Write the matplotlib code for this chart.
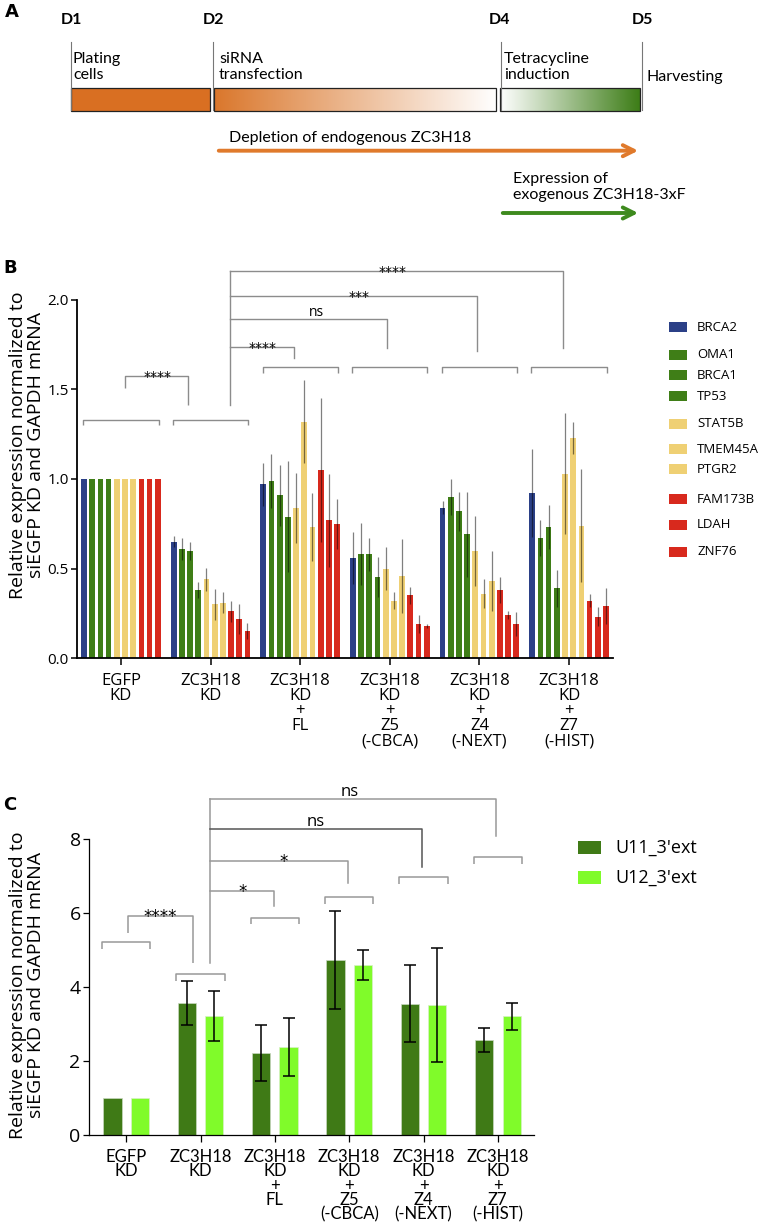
import numpy as np
import matplotlib
matplotlib.use("Agg")
from matplotlib import pyplot as plt
from matplotlib.colors import LinearSegmentedColormap

# --- data, panel B (one list per condition, genes in legend order)
genes = ['BRCA2', 'OMA1', 'BRCA1', 'TP53', 'STAT5B', 'TMEM45A', 'PTGR2', 'FAM173B', 'LDAH', 'ZNF76']
gene_colors = ['#2b4087', '#3f7e17', '#3f7e17', '#3f7e17', '#efd074', '#efd074', '#efd074',
               '#d8291d', '#d8291d', '#d8291d']
conditions = ['EGFP\nKD', 'ZC3H18\nKD', 'ZC3H18\nKD\n+\nFL', 'ZC3H18\nKD\n+\nZ5\n(-CBCA)',
              'ZC3H18\nKD\n+\nZ4\n(-NEXT)', 'ZC3H18\nKD\n+\nZ7\n(-HIST)']

mean_egfp = [1.0, 1.0, 1.0, 1.0, 1.0, 1.0, 1.0, 1.0, 1.0, 1.0]
err_egfp = [0, 0, 0, 0, 0, 0, 0, 0, 0, 0]
mean_kd = [0.65, 0.61, 0.60, 0.38, 0.44, 0.30, 0.31, 0.26, 0.22, 0.15]
err_kd = [0.03, 0.06, 0.05, 0.045, 0.063, 0.085, 0.056, 0.058, 0.084, 0.046]
mean_fl = [0.97, 0.99, 0.91, 0.79, 0.84, 1.32, 0.73, 1.05, 0.77, 0.75]
err_fl = [0.12, 0.15, 0.17, 0.31, 0.196, 0.233, 0.19, 0.40, 0.26, 0.14]
mean_z5 = [0.56, 0.58, 0.58, 0.45, 0.50, 0.32, 0.46, 0.35, 0.19, 0.18]
err_z5 = [0.146, 0.173, 0.093, 0.112, 0.12, 0.048, 0.206, 0.049, 0.049, 0.01]
mean_z4 = [0.84, 0.90, 0.82, 0.69, 0.60, 0.36, 0.43, 0.38, 0.24, 0.19]
err_z4 = [0.035, 0.10, 0.11, 0.235, 0.196, 0.082, 0.17, 0.072, 0.02, 0.065]
mean_z7 = [0.92, 0.67, 0.73, 0.39, 1.03, 1.23, 0.74, 0.32, 0.23, 0.29]
err_z7 = [0.245, 0.10, 0.122, 0.103, 0.34, 0.088, 0.316, 0.037, 0.054, 0.10]

# --- data, panel C
snrnas = ["U11_3'ext", "U12_3'ext"]
u11_mean = [1.0, 3.57, 2.22, 4.73, 3.55, 2.58]
u11_err = [0, 0.60, 0.75, 1.33, 1.04, 0.32]
u12_mean = [1.0, 3.22, 2.39, 4.60, 3.51, 3.21]
u12_err = [0, 0.67, 0.78, 0.40, 1.54, 0.36]
c_colors = ['#3f7a16', '#80fb2a']

W, H = 758, 1226
fig = plt.figure(figsize=(W / 100, H / 100), dpi=100)
plt.rcParams['font.family'] = ['Open Sans', 'DejaVu Sans']


def px_axes(x0, y0, x1, y1):
    # axes rectangle from pixel box (top-left origin)
    return [x0 / W, 1 - y1 / H, (x1 - x0) / W, (y1 - y0) / H]


def bracket(ax, x0, x1, y, d0, d1, color='#8c8c8c', lw=1.0):
    ax.plot([x0, x0, x1, x1], [y - d0, y, y, y - d1], color=color, lw=lw,
            clip_on=False, solid_capstyle='butt')


def star(ax, x, y, s, size, dy, family='DejaVu Sans'):
    ax.annotate(s, (x, y), xytext=(0, dy), textcoords='offset points',
                ha='center', va='baseline', fontsize=size, family=family,
                annotation_clip=False)


# ---------------- panel A (drawn in pixel coordinates)
axA = fig.add_axes(px_axes(0, 0, W, 225))
axA.axis('off')
fontA = ['Lato', 'DejaVu Sans']

fig.text(12 / W, 1 - 12 / H, 'A', fontsize=13, fontweight='bold', ha='center', va='center',
         family='DejaVu Sans')
for lab, x in zip(['D1', 'D2', 'D4', 'D5'], [71, 214, 500, 642]):
    axA.text(x, 20, lab, fontsize=11.5, fontweight='bold', ha='center', va='center', family=fontA)
for x in [71, 213, 500.5, 642]:
    axA.plot([x, x], [42, 110], color='#777777', lw=0.8)

orange = '#d96f22'
green = '#3d7d17'
axA.add_patch(plt.Rectangle((71, 87.7), 139.3, 23, facecolor=orange, edgecolor='#222222', lw=0.9))
grad = np.linspace(0, 1, 256).reshape(1, -1)
cm_o = LinearSegmentedColormap.from_list('o', ['#da772c', '#ffffff'])
cm_g = LinearSegmentedColormap.from_list('g', ['#ffffff', green])
axA.imshow(grad, cmap=cm_o, extent=(214, 496.3, 110.7, 87.7), aspect='auto')
axA.imshow(grad, cmap=cm_g, extent=(500, 640, 110.7, 87.7), aspect='auto')
axA.add_patch(plt.Rectangle((214, 87.7), 282.3, 23, facecolor='none', edgecolor='#222222', lw=0.9))
axA.add_patch(plt.Rectangle((500, 87.7), 140, 23, facecolor='none', edgecolor='#222222', lw=0.9))
axA.set_xlim(0, W)
axA.set_ylim(225, 0)

tA = dict(fontsize=11.5, ha='left', va='center', family=fontA, linespacing=1.2)
axA.text(73, 67, 'Plating\ncells', **tA)
axA.text(219, 67, 'siRNA\ntransfection', **tA)
axA.text(504, 67, 'Tetracycline\ninduction', **tA)
axA.text(646, 77, 'Harvesting', **tA)
axA.text(229, 137.7, 'Depletion of endogenous ZC3H18', **tA)
axA.text(513, 187, 'Expression of\nexogenous ZC3H18-3xF', **tA)
axA.annotate('', xy=(641, 150.7), xytext=(216, 150.7),
             arrowprops=dict(arrowstyle='->,head_length=0.8,head_width=0.4', color='#e07a2c', lw=2.8))
axA.annotate('', xy=(641, 213), xytext=(500, 213),
             arrowprops=dict(arrowstyle='->,head_length=0.8,head_width=0.4', color='#3e8a1e', lw=2.8))

# ---------------- panel B
axB = fig.add_axes(px_axes(77, 300, 613, 658))
b_means = [mean_egfp, mean_kd, mean_fl, mean_z5, mean_z4, mean_z7]
b_errs = [err_egfp, err_kd, err_fl, err_z5, err_z4, err_z7]
step = 0.0915
offs = (np.arange(len(genes)) - 4.5) * step
for g in range(len(genes)):
    vals = [m[g] for m in b_means]
    errs = [e[g] for e in b_errs]
    xs = np.arange(len(conditions)) + offs[g]
    axB.bar(xs, vals, width=0.064, color=gene_colors[g], zorder=2)
    axB.errorbar(xs, vals, yerr=errs, fmt='none', ecolor='black', alpha=0.5,
                 elinewidth=0.9, capsize=0, zorder=3)
axB.set_xlim(-0.49, 5.49)
axB.set_ylim(0, 2.0)
axB.set_yticks([0, 0.5, 1.0, 1.5, 2.0])
axB.set_yticklabels(['0.0', '0.5', '1.0', '1.5', '2.0'], fontsize=11)
axB.set_xticks(range(len(conditions)))
axB.set_xticklabels(conditions, fontsize=12, linespacing=0.92)
for s in ['top', 'right']:
    axB.spines[s].set_visible(False)
for s in ['left', 'bottom']:
    axB.spines[s].set_linewidth(1.3)
axB.tick_params(axis='both', length=4, width=1.1, pad=2)
axB.tick_params(axis='x', length=5, pad=6)

fig.text(10 / W, 1 - 268 / H, 'B', fontsize=13, fontweight='bold', ha='center', va='center',
         family='DejaVu Sans')
fig.text(27 / W, 1 - 445 / H, 'Relative expression normalized to\nsiEGFP KD and GAPDH mRNA',
         rotation=90, ha='center', va='center', fontsize=14, linespacing=0.95)

# group brackets
for i in range(2):
    bracket(axB, i - 0.42, i + 0.42, 1.332, 0.028, 0.028)
for i in range(2, 6):
    bracket(axB, i - 0.42, i + 0.42, 1.624, 0.03, 0.03)
# comparisons
bracket(axB, 0.045, 0.75, 1.575, 1.575 - 1.508, 1.575 - 1.413)
star(axB, 0.413, 1.575, '****', 10, -3.8)
axB.plot([1.217, 1.217], [1.413, 2.164], color='#8c8c8c', lw=1.0, clip_on=False)
for x1, y, yb, lab, tx in [(1.934, 1.74, 1.678, '****', 1.585),
                           (2.972, 1.893, 1.73, 'ns', 2.18),
                           (3.97, 2.024, 1.715, '***', 2.656),
                           (4.93, 2.164, 1.734, '****', 3.03)]:
    axB.plot([1.217, x1, x1], [y, y, yb], color='#8c8c8c', lw=1.0, clip_on=False)
    if lab == 'ns':
        star(axB, tx, y, lab, 10, 2.0, family='Open Sans')
    else:
        star(axB, tx, y, lab, 10, -3.8)

# legend B
leg_y = [327.3, 354.7, 375.3, 396, 423.7, 449.3, 469.3, 499.3, 525, 551.7]
for name, col, y in zip(genes, gene_colors, leg_y):
    fig.patches.append(plt.Rectangle((669.3 / W, 1 - (y + 5) / H), 18 / W, 10 / H,
                                     facecolor=col, edgecolor='none', transform=fig.transFigure))
    fig.text(697 / W, 1 - y / H, name, fontsize=9.5, ha='left', va='center')

# ---------------- panel C
axC = fig.add_axes(px_axes(89, 839, 534.3, 1135.3))
xc = np.arange(len(conditions))
axC.bar(xc - 0.185, u11_mean, width=0.245, color=c_colors[0], edgecolor='#c8d8c0', lw=0.5, zorder=2)
axC.bar(xc + 0.185, u12_mean, width=0.245, color=c_colors[1], edgecolor='#d8f0c8', lw=0.5, zorder=2)
for off, m, e in [(-0.185, u11_mean, u11_err), (0.185, u12_mean, u12_err)]:
    m = np.array(m)
    e = np.array(e)
    keep = e > 0
    axC.errorbar(xc[keep] + off, m[keep], yerr=e[keep], fmt='none', ecolor='black',
                 elinewidth=1.1, capsize=4, capthick=1.1, zorder=3)
axC.set_xlim(-0.5, 5.49)
axC.set_ylim(0, 8)
axC.set_yticks([0, 2, 4, 6, 8])
axC.set_yticklabels(['0', '2', '4', '6', '8'], fontsize=14)
axC.set_xticks(xc)
axC.set_xticklabels(conditions, fontsize=12, linespacing=0.86, family=['Lato', 'DejaVu Sans'])
for s in ['top', 'right']:
    axC.spines[s].set_visible(False)
for s in ['left', 'bottom']:
    axC.spines[s].set_linewidth(0.9)
axC.tick_params(axis='both', length=4, width=0.9, pad=2)
axC.tick_params(axis='x', length=5, pad=5)

fig.text(10 / W, 1 - 805 / H, 'C', fontsize=13, fontweight='bold', ha='center', va='center',
         family='DejaVu Sans')
fig.text(27 / W, 1 - 985 / H, 'Relative expression normalized to\nsiEGFP KD and GAPDH mRNA',
         rotation=90, ha='center', va='center', fontsize=14, linespacing=0.95)

c_bracket_y = [5.21, 4.355, 5.875, 6.425, 6.965, 7.505]
for i, y in enumerate(c_bracket_y):
    bracket(axC, i - 0.325, i + 0.325, y, 0.18, 0.18, color='#999999', lw=1.1)
bracket(axC, 0.031, 0.90, 5.92, 5.92 - 5.47, 5.92 - 4.64, color='#999999', lw=1.1)
star(axC, 0.457, 5.92, '****', 12, -4.5)
axC.plot([1.125, 1.125], [4.66, 9.08], color='#999999', lw=1.1, clip_on=False)
for x1, y, yb, lab, tx, col in [(1.993, 6.595, 6.2, '*', 1.563, '#999999'),
                                (2.988, 7.414, 6.82, '*', 2.114, '#999999'),
                                (3.98, 8.26, 7.25, 'ns', 2.55, '#555555'),
                                (4.97, 9.08, 8.09, 'ns', 3.0, '#999999')]:
    axC.plot([1.125, x1, x1], [y, y, yb], color=col, lw=1.1, clip_on=False)
    if lab == 'ns':
        star(axC, tx, y, lab, 12, 2.5, family='Open Sans')
    else:
        star(axC, tx, y, lab, 12, -4.5)

for name, col, y in zip(snrnas, c_colors, [847.7, 877.3]):
    fig.patches.append(plt.Rectangle((577.7 / W, 1 - (y + 6.5) / H), 23.6 / W, 13 / H,
                                     facecolor=col, edgecolor='none', transform=fig.transFigure))
    fig.text(615.3 / W, 1 - y / H, name, fontsize=13, ha='left', va='center')

fig.savefig('out.png', dpi=100)
